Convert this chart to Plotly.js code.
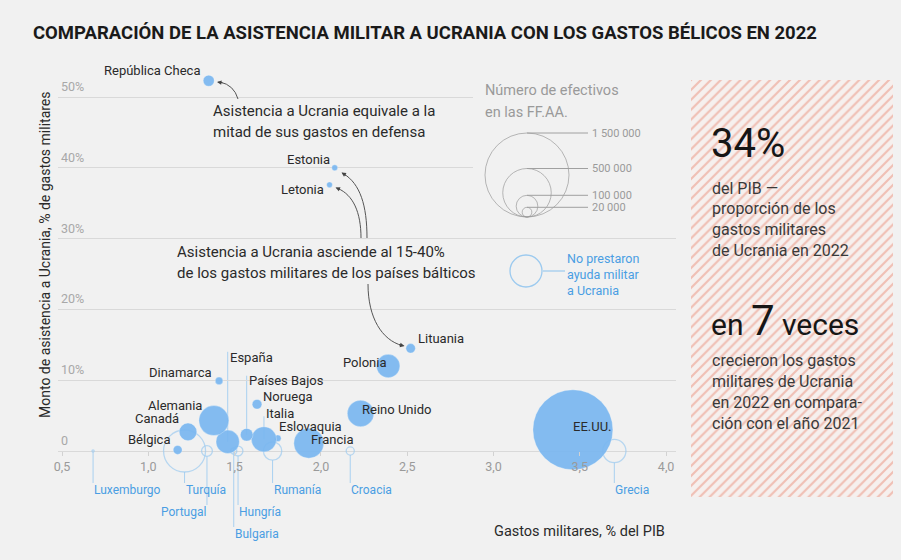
<!DOCTYPE html>
<html><head><meta charset="utf-8">
<script src="https://cdn.plot.ly/plotly-3.0.1.min.js"></script>
<style>html,body{margin:0;padding:0;background:#f1f1f1;} #chart{width:901px;height:560px;}</style>
</head><body><div id="chart"></div>
<script>
// ---------------- DATA ----------------
const aidCountries = ['República Checa','Estonia','Letonia','Lituania','Polonia','Reino Unido','EE.UU.','Francia','Eslovaquia','Italia','Noruega','Países Bajos','España','Dinamarca','Alemania','Canadá','Bélgica'];
const aidGdp    = [1.35, 2.08, 2.05, 2.52, 2.39, 2.23, 3.46, 1.93, 1.75, 1.67, 1.63, 1.57, 1.46, 1.41, 1.38, 1.23, 1.17];
const aidShare  = [52.3, 40.0, 37.6, 14.5, 12.0, 5.3, 3.0, 1.1, 1.8, 1.65, 6.6, 2.3, 1.3, 9.9, 4.3, 2.7, 0.15];
const aidTroops = [26000, 7500, 7000, 19000, 116000, 150000, 1360000, 191000, 9500, 135000, 20000, 34000, 116000, 12500, 191000, 66000, 17000];

const noAidCountries = ['Luxemburgo','Turquía','Portugal','Hungría','Bulgaria','Rumanía','Croacia','Grecia'];
const noAidGdp    = [0.68, 1.21, 1.34, 1.52, 1.495, 1.72, 2.17, 3.70];
const noAidShare  = [0, 0, 0, 0, 0, 0, 0, 0];
const noAidTroops = [1000, 375000, 25000, 20000, 8000, 72000, 14000, 115000];

const legendTroops = [1500000, 500000, 100000, 20000];
const legendLabels = ['1 500 000', '500 000', '100 000', '20 000'];

const xTickVals = [0.5, 1, 1.5, 2, 2.5, 3, 3.5, 4];
const xTickText = ['0,5', '1,0', '1,5', '2,0', '2,5', '3,0', '3,5', '4,0'];
const yTickVals = [0, 10, 20, 30, 40, 50];
const yTickText = ['0', '10%', '20%', '30%', '40%', '50%'];

// ---------------- GEOMETRY / STYLE ----------------
const BG = '#f1f1f1', BUBBLE = '#7ab7f0', HOLLOW = '#9ccaef', STEM = '#a9d0f0', BLUE_TXT = '#4a9ee3', DARK = '#2a2a2a';
const L = 58, R = 893, T = 68, B = 545;
const X0PX = 62, XPU = 172.6, Y0PX = 451, YPU = 7.08, XEND = 676;
const xRange = [0.5 - (X0PX - L) / XPU, 0.5 + (XEND - X0PX) / XPU];
const yRange = [-(B - Y0PX) / YPU, (Y0PX - T) / YPU];
const dx = px => 0.5 + (px - X0PX) / XPU;
const dy = py => (Y0PX - py) / YPU;
const pX = px => (px - L) / (R - L);
const pY = py => (B - py) / (B - T);
const SIZEREF = 2 * 1500000 / (84 * 84);
const rad = n => Math.sqrt(n / (2 * SIZEREF));

const aidLabelPos = {
  'República Checa': {a:'right', dx:-7, dy:10},
  'Estonia': {a:'right', dx:-3, dy:8},
  'Letonia': {a:'right', dx:-4, dy:-5},
  'Lituania': {a:'left', dx:5, dy:10},
  'Polonia': {a:'right', dx:1, dy:4},
  'Reino Unido': {a:'left', dx:-1, dy:4},
  'EE.UU.': {a:'left', dx:-2, dy:3},
  'Francia': {a:'left', dx:0, dy:4},
  'Eslovaquia': {a:'left', dx:-1, dy:12},
  'Italia': {a:'left', dx:0, dy:26, stem:23},
  'Noruega': {a:'left', dx:4, dy:8},
  'Países Bajos': {a:'left', dx:0, dy:54, stem:59},
  'España': {a:'left', dx:0, dy:84, stem:90},
  'Dinamarca': {a:'right', dx:-5, dy:8},
  'Alemania': {a:'right', dx:-10, dy:15},
  'Canadá': {a:'right', dx:-7, dy:13},
  'Bélgica': {a:'right', dx:-5, dy:10}
};
const levelPx = [483, 505, 527];
const noAidLabelPos = {
  'Luxemburgo': {lv:0, a:'left'}, 'Turquía': {lv:0, a:'left'}, 'Portugal': {lv:1, a:'right'},
  'Hungría': {lv:1, a:'left'}, 'Bulgaria': {lv:2, a:'left'}, 'Rumanía': {lv:0, a:'left'},
  'Croacia': {lv:0, a:'left'}, 'Grecia': {lv:0, a:'left'}
};

// ---------------- TRACES ----------------
const traces = [];
traces.push({type:'bar', x:[0], y:[1], width:[1], xaxis:'x2', yaxis:'y2', hoverinfo:'skip',
  marker:{color:'#f6efed', line:{width:0}, pattern:{shape:'/', fgcolor:'#f0bfb4', bgcolor:'#f6f0ee', size:7, solidity:0.3}}});
traces.push({type:'scatter', mode:'markers', x:noAidGdp, y:noAidShare, cliponaxis:false, hoverinfo:'skip',
  marker:{symbol:'circle-open', size:noAidTroops, sizemode:'area', sizeref:SIZEREF, color:HOLLOW, line:{width:1.3}}});
traces.push({type:'scatter', mode:'markers', x:aidGdp, y:aidShare, cliponaxis:false, hoverinfo:'skip',
  marker:{size:aidTroops, sizemode:'area', sizeref:SIZEREF, color:BUBBLE, opacity:0.92, line:{width:0.6, color:'rgba(255,255,255,0.5)'}}});
// size legend
const legCx = 527, legBottom = 217;
traces.push({type:'scatter', mode:'markers', x:legendTroops.map(() => dx(legCx)), y:legendTroops.map(v => dy(legBottom - rad(v))),
  cliponaxis:false, hoverinfo:'skip',
  marker:{symbol:'circle-open', size:legendTroops, sizemode:'area', sizeref:SIZEREF, color:'#9a9a9a', line:{width:1}}});
// no-aid legend symbol
traces.push({type:'scatter', mode:'markers', x:[dx(526)], y:[dy(271)], cliponaxis:false, hoverinfo:'skip',
  marker:{symbol:'circle-open', size:32, color:HOLLOW, line:{width:1.3}}});

// ---------------- SHAPES ----------------
const shapes = [];
shapes.push({type:'rect', xref:'x', yref:'y', x0:dx(473), x1:dx(690), y0:dy(180), y1:dy(85), fillcolor:BG, line:{width:0}, layer:'between'});
noAidCountries.forEach((c, i) => {
  const p = noAidLabelPos[c];
  shapes.push({type:'line', xref:'x', yref:'y', x0:noAidGdp[i], x1:noAidGdp[i],
    y0:noAidShare[i] - rad(noAidTroops[i]) / YPU, y1:dy(levelPx[p.lv]), line:{color:STEM, width:1}, layer:'below'});
});
aidCountries.forEach((c, i) => {
  const p = aidLabelPos[c];
  if (p.stem) shapes.push({type:'line', xref:'x', yref:'y', x0:aidGdp[i], x1:aidGdp[i], y0:aidShare[i], y1:aidShare[i] + p.stem / YPU,
    line:{color:STEM, width:1}, layer:'below'});
});
legendTroops.forEach(v => {
  const top = legBottom - 2 * rad(v);
  shapes.push({type:'line', xref:'x', yref:'y', x0:dx(legCx), x1:dx(588), y0:dy(top), y1:dy(top), line:{color:'#a0a0a0', width:1}});
});
shapes.push({type:'line', xref:'x', yref:'y', x0:dx(543), x1:dx(565), y0:dy(271), y1:dy(271), line:{color:HOLLOW, width:1.2}});
const arrowPaths = [
  `M ${dx(238)},${dy(99)} Q ${dx(234)},${dy(85)} ${dx(220)},${dy(82)}`,
  `M ${dx(367)},${dy(238)} C ${dx(367)},${dy(205)} ${dx(360)},${dy(184)} ${dx(344)},${dy(174)}`,
  `M ${dx(361)},${dy(238)} C ${dx(361)},${dy(212)} ${dx(353)},${dy(195)} ${dx(338)},${dy(188.5)}`,
  `M ${dx(368)},${dy(284)} C ${dx(368)},${dy(318)} ${dx(382)},${dy(340)} ${dx(402)},${dy(345.5)}`
];
arrowPaths.forEach(p => shapes.push({type:'path', xref:'x', yref:'y', path:p, line:{color:'#555', width:1}}));

// ---------------- ANNOTATIONS ----------------
const ann = [];
const F = 'Roboto, "Noto Sans", sans-serif';
// y tick labels, sitting on top of their gridlines
yTickVals.forEach((v, i) => ann.push({x:pX(59), y:v, xref:'paper', yref:'y', text:yTickText[i], showarrow:false,
  xanchor:'left', yanchor:'bottom', yshift:1, font:{family:F, size:12.5, color:'#a8a8a8'}}));
aidCountries.forEach((c, i) => {
  const p = aidLabelPos[c];
  ann.push({x:aidGdp[i], y:aidShare[i], xref:'x', yref:'y', text:c, showarrow:false, xanchor:p.a, yanchor:'middle',
    xshift:p.dx, yshift:p.dy, font:{family:F, size:13, color:DARK}});
});
noAidCountries.forEach((c, i) => {
  const p = noAidLabelPos[c];
  ann.push({x:noAidGdp[i], y:dy(levelPx[p.lv]), xref:'x', yref:'y', text:c, showarrow:false, xanchor:p.a, yanchor:'top',
    xshift:p.a === 'left' ? -1 : 1, yshift:2, font:{family:F, size:12, color:BLUE_TXT}});
});
legendTroops.forEach((v, i) => {
  const top = legBottom - 2 * rad(v);
  ann.push({x:dx(590), y:dy(top), xref:'x', yref:'y', text:legendLabels[i], showarrow:false, xanchor:'left', yanchor:'middle',
    font:{family:F, size:11, color:'#9a9a9a'}});
});
// arrow heads
[[217, 82, 7, 1], [341.5, 172.5, 6, 4], [335.5, 187.5, 6, 2.5], [404.5, 346, -7, -1.5]].forEach(a => {
  ann.push({x:dx(a[0]), y:dy(a[1]), xref:'x', yref:'y', text:'', showarrow:true, ax:a[2], ay:a[3],
    arrowhead:2, arrowsize:0.9, arrowwidth:1, arrowcolor:'#444', standoff:0});
});
function lines(arr, xpx, ys, size, color, extra) {
  arr.forEach((t, i) => ann.push(Object.assign({x:pX(xpx), y:pY(ys[i]), xref:'paper', yref:'paper', text:t, showarrow:false,
    xanchor:'left', yanchor:'middle', font:{family:F, size:size, color:color}}, extra || {})));
}
lines(['Asistencia a Ucrania equivale a la', 'mitad de sus gastos en defensa'], 211, [111, 132], 15, DARK);
lines(['Asistencia a Ucrania asciende al 15-40%', 'de los gastos militares de los países bálticos'], 175, [252, 272.5], 15, DARK);
lines(['Número de efectivos', 'en las FF.AA.'], 483, [90, 112.5], 14.5, '#9a9a9a');
lines(['No prestaron', 'ayuda militar', 'a Ucrania'], 565, [258, 274, 290], 12.5, BLUE_TXT);
lines(['34%'], 709, [143.5], 40, '#161616');
lines(['del PIB —', 'proporción de los', 'gastos militares', 'de Ucrania en 2022'], 710, [188, 208.5, 229, 250], 16, '#3a3a3a');
lines(['en <span style="font-size:42px">7</span> veces'], 709, [320], 30, '#161616');
lines(['crecieron los gastos', 'militares de Ucrania', 'en 2022 en compara-', 'ción con el año 2021'], 710, [360, 381, 402, 423], 16, '#3a3a3a');
// axis titles
ann.push({x:pX(667), y:pY(531), xref:'paper', yref:'paper', text:'Gastos militares, % del PIB', showarrow:false,
  xanchor:'right', yanchor:'middle', font:{family:F, size:14.5, color:DARK}});
ann.push({x:pX(45), y:pY(255), xref:'paper', yref:'paper', text:'Monto de asistencia a Ucrania, % de gastos militares', showarrow:false,
  textangle:-90, xanchor:'center', yanchor:'middle', font:{family:F, size:14, color:DARK}});

const layout = {
  width:901, height:560, paper_bgcolor:BG, plot_bgcolor:BG, showlegend:false,
  margin:{l:L, r:901 - R, t:T, b:560 - B},
  font:{family:F, color:DARK},
  title:{text:'COMPARACIÓN DE LA ASISTENCIA MILITAR A UCRANIA CON LOS GASTOS BÉLICOS EN 2022', xref:'container', yref:'container',
    x:33 / 901, xanchor:'left', y:1 - 33 / 560, yanchor:'middle', font:{family:F, size:18.5, weight:700, color:'#1a1a1a'}},
  xaxis:{domain:[0, pX(XEND)], range:xRange, anchor:'free', position:pY(Y0PX), tickvals:xTickVals, ticktext:xTickText,
    showgrid:false, zeroline:false, showline:false, ticks:'outside', ticklen:4, tickcolor:'#d2d2d2', layer:'above traces',
    tickfont:{family:F, size:12.5, color:'#9a9a9a'}, fixedrange:true},
  yaxis:{domain:[0, 1], range:yRange, tickvals:yTickVals, showticklabels:false,
    showgrid:true, gridcolor:'#d9d9d9', gridwidth:1, zeroline:false, showline:false, ticks:'', fixedrange:true},
  xaxis2:{domain:[pX(691), 1], range:[-0.5, 0.5], visible:false, anchor:'y2', fixedrange:true},
  yaxis2:{domain:[pY(497), pY(80)], range:[0, 1], visible:false, anchor:'x2', fixedrange:true},
  bargap:0,
  shapes:shapes, annotations:ann
};
Plotly.newPlot('chart', traces, layout, {displayModeBar:false, staticPlot:true});
</script></body></html>
